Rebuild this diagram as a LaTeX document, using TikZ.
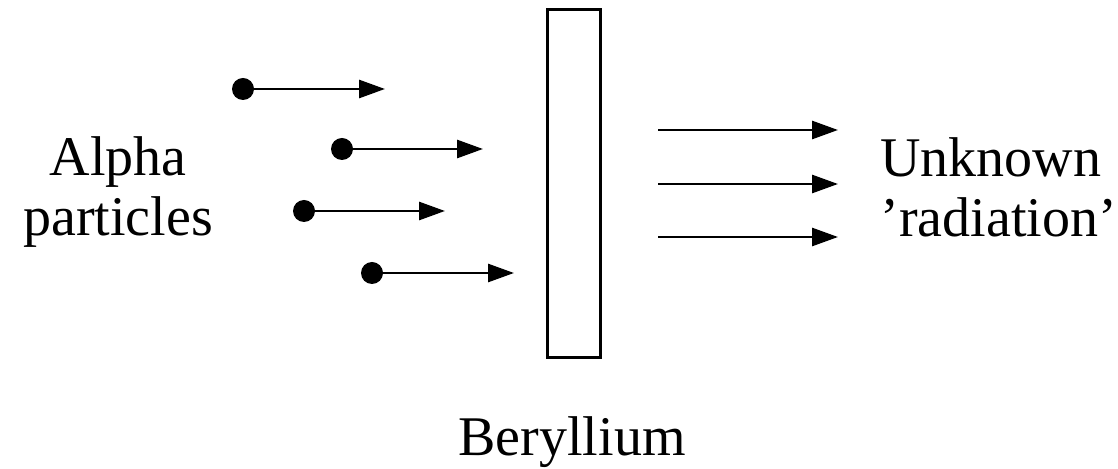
\documentclass[tikz,border=0pt]{standalone}
\usepackage{fontspec}
\setmainfont{Liberation Serif}
\usepackage{tikz}
\usetikzlibrary{arrows.meta}

\begin{document}
\begin{tikzpicture}[x=0.5pt,y=-0.5pt,
  dot/.style={circle,fill=black,inner sep=0pt,minimum size=11pt},
  ray/.style={line width=1.4pt,-{Triangle[length=13pt,width=9pt]}},
  lbl/.style={font=\fontsize{28}{30}\selectfont,inner sep=0pt}]
\useasboundingbox (0,0) rectangle (1118,469);
% alpha particles
\node[dot] (p1) at (243,89) {};
\node[dot] (p2) at (342,149) {};
\node[dot] (p3) at (304,211) {};
\node[dot] (p4) at (372,273) {};
\coordinate (q1) at (385,89);
\coordinate (q2) at (483,149);
\coordinate (q3) at (445,211);
\coordinate (q4) at (514,273);
\draw[ray] (p1.center) -- (q1);
\draw[ray] (p2.center) -- (q2);
\draw[ray] (p3.center) -- (q3);
\draw[ray] (p4.center) -- (q4);
% beryllium target
\node[draw,line width=1.5pt,minimum width=26.5pt,minimum height=174pt] (be) at (573.5,184) {};
% outgoing radiation
\coordinate (r1) at (658,130);
\coordinate (r2) at (658,184);
\coordinate (r3) at (658,237);
\coordinate (s1) at (838,130);
\coordinate (s2) at (838,184);
\coordinate (s3) at (838,237);
\draw[ray] (r1) -- (s1);
\draw[ray] (r2) -- (s2);
\draw[ray] (r3) -- (s3);
% labels
\node[lbl,align=center] (alpha) at (118,192) {Alpha\\particles};
\node[lbl,align=left,anchor=west] (unk) at (880,187) {Unknown\\’radiation’};
\node[lbl,anchor=base] (ber) at (572,456) {Beryllium};
\end{tikzpicture}
\end{document}
